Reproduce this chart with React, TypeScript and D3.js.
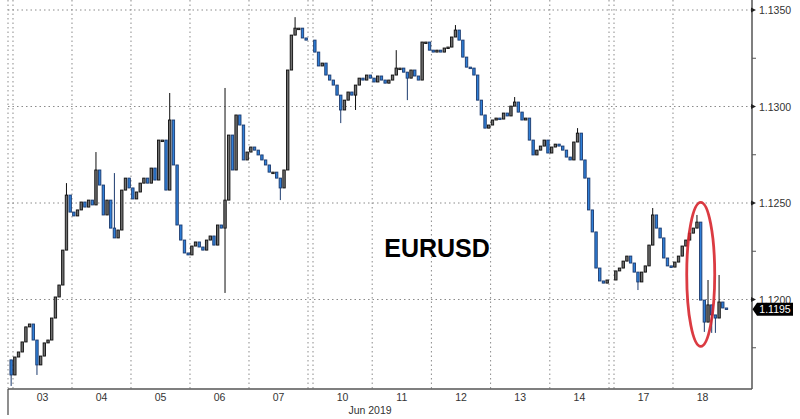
import React from "react";
import * as d3 from "d3";

// ---- data ----
const dayLabels = ["03", "04", "05", "06", "07", "10", "11", "12", "13", "14", "17", "18"];
const monthLabel = "Jun 2019";
const yTicks = [1.12, 1.125, 1.13, 1.135];
const yMinorTicks = [1.1175, 1.1225, 1.1275, 1.1325];
const lastPriceLabel = "1.1195";
const title = "EURUSD";

const firstOpen = 1.11687;
const sundayCloses = [1.11609];
const close03 = [1.11702, 1.11728, 1.1178, 1.11858, 1.11873, 1.1179, 1.11661, 1.11707, 1.11775, 1.1179, 1.11904, 1.12013, 1.12075, 1.12256, 1.12541, 1.12453];
const close04 = [1.12433, 1.12464, 1.12505, 1.12479, 1.12515, 1.1249, 1.12671, 1.12593, 1.12438, 1.12515, 1.1237, 1.12319, 1.1236, 1.12567, 1.12629, 1.12578];
const close05 = [1.12521, 1.12557, 1.12603, 1.12629, 1.12603, 1.12681, 1.12619, 1.12826, 1.12826, 1.12567, 1.1293, 1.12697, 1.12386, 1.12308, 1.12241, 1.12231];
const close06 = [1.12277, 1.12298, 1.12272, 1.12256, 1.12308, 1.12329, 1.12282, 1.12386, 1.1237, 1.12515, 1.12852, 1.12671, 1.12956, 1.12904, 1.12723, 1.12764];
const close07 = [1.1279, 1.12774, 1.12749, 1.12723, 1.12697, 1.1266, 1.1266, 1.12629, 1.12578, 1.12671, 1.13189, 1.1337, 1.13406, 1.13406, 1.13355, 1.13344];
const close10 = [1.13282, 1.1321, 1.13225, 1.13163, 1.13137, 1.13111, 1.13059, 1.12982, 1.13033, 1.13075, 1.13059, 1.13111, 1.13147, 1.13137, 1.13163, 1.13147];
const close11 = [1.13127, 1.13158, 1.13137, 1.13121, 1.13137, 1.13163, 1.13199, 1.13199, 1.13178, 1.13147, 1.13189, 1.13158, 1.13137, 1.13334, 1.13334, 1.13292];
const close12 = [1.13282, 1.13292, 1.13282, 1.13303, 1.13308, 1.1336, 1.13396, 1.13344, 1.13256, 1.13204, 1.13199, 1.13163, 1.13033, 1.12956, 1.12888, 1.12904];
const close13 = [1.1293, 1.1294, 1.12935, 1.12966, 1.12951, 1.13002, 1.13023, 1.12971, 1.1293, 1.1294, 1.12826, 1.12749, 1.12774, 1.12795, 1.12826, 1.12759];
const close14 = [1.1279, 1.12805, 1.12795, 1.12774, 1.12738, 1.12723, 1.12816, 1.12862, 1.12723, 1.12629, 1.12464, 1.1235, 1.12163, 1.12096, 1.12085, 1.12101];
const close17 = [1.12148, 1.12163, 1.12199, 1.12225, 1.12189, 1.12142, 1.12091, 1.12142, 1.12174, 1.12282, 1.12438, 1.1237, 1.12319, 1.12215, 1.12174, 1.12168];
const close18 = [1.12194, 1.12225, 1.12277, 1.12308, 1.12344, 1.1237, 1.12401, 1.11997, 1.11883, 1.11972, 1.1192, 1.11904, 1.11987, 1.11956, 1.1195];
const dayCloses = [close03, close04, close05, close06, close07, close10, close11, close12, close13, close14, close17, close18];

// wick extremes: [day label, candle index, price]
const wickHighs: [string, number, number][] = [
  ["03", 14, 1.12603], ["04", 6, 1.12764], ["04", 11, 1.12655], ["05", 10, 1.1307],
  ["06", 9, 1.13096], ["07", 12, 1.13463], ["11", 6, 1.13292], ["12", 6, 1.13422],
  ["13", 6, 1.13049], ["14", 7, 1.12888], ["17", 10, 1.12474], ["18", 6, 1.12438],
  ["18", 9, 1.12101], ["18", 12, 1.12127],
];
const wickLows: [string, number, number][] = [
  ["02", 0, 1.11552], ["03", 6, 1.11609], ["06", 9, 1.12034], ["07", 8, 1.12515],
  ["10", 7, 1.12914], ["10", 11, 1.12982], ["11", 9, 1.13033], ["17", 6, 1.12049],
  ["18", 8, 1.11832], ["18", 10, 1.11827], ["18", 11, 1.11827],
];
// highlighted region (time in trading days, price)
const highlightTime = 11.47;
const highlightPrice = 1.1213;

// ---- layout ----
const W = 800, H = 419;
const CPD = 16; // candles per day
const sessionStart = -0.0847;
const EPS = 0.0001;

const x = d3.scaleLinear()
  .domain([sessionStart, 5, 5 + EPS, 10, 10 + EPS, 12])
  .range([8, 308, 313, 609, 614, 732]);
const y = d3.scaleLinear().domain([1.12, 1.135]).range([299.5, 10]);

type Candle = { t: number; open: number; close: number; high: number; low: number };

function buildCandles(): Candle[] {
  const hi = new Map(wickHighs.map(([d, j, p]) => [`${d}-${j}`, p]));
  const lo = new Map(wickLows.map(([d, j, p]) => [`${d}-${j}`, p]));
  const out: Candle[] = [];
  let prev = firstOpen;
  const push = (t: number, c: number, key: string) => {
    const high = Math.max(prev, c, hi.get(key) ?? -Infinity);
    const low = Math.min(prev, c, lo.get(key) ?? Infinity);
    out.push({ t, open: prev, close: c, high, low });
    prev = c;
  };
  sundayCloses.forEach((c, j) => push(-(sundayCloses.length - j - 0.5) / CPD, c, `02-${j}`));
  dayCloses.forEach((arr, d) => arr.forEach((c, j) => push(d + (j + 0.5) / CPD, c, `${dayLabels[d]}-${j}`)));
  return out;
}

const candles = buildCandles();

export default function App() {
  const plotLeft = x.range()[0];
  const axisX = 752;
  const axisY = 389;
  const font = "'Liberation Sans', Arial, sans-serif";

  const vLines: number[] = [x(sessionStart), x(0)];
  for (let d = 1; d < 12; d++) {
    vLines.push(x(d));
    if (d === 5 || d === 10) vLines.push(x(d + EPS));
  }

  const bw = 2.4;
  const last = candles[candles.length - 1];
  const ty = y(last.close);

  return (
    <svg width={W} height={H} style={{ position: "fixed", left: 0, top: 0, background: "#fff" }} fontFamily={font}>
      <rect width={W} height={H} fill="#fff" />
      {/* grid */}
      {yTicks.map((v) => (
        <line key={"h" + v} x1={plotLeft} x2={axisX} y1={y(v)} y2={y(v)} stroke="#8a8a8a" strokeWidth={1} strokeDasharray="1.5,3" />
      ))}
      {vLines.map((vx, i) => (
        <line key={"v" + i} x1={vx} x2={vx} y1={0} y2={axisY} stroke="#8a8a8a" strokeWidth={1} strokeDasharray="1.5,3" />
      ))}

      {/* candles */}
      {candles.map((c, i) => {
        const cx = x(c.t);
        const up = c.close >= c.open;
        const top = y(Math.max(c.open, c.close));
        const bot = y(Math.min(c.open, c.close));
        const stroke = up ? "#0d0d0d" : "#1b3a6e";
        const fill = up ? "#707070" : "#2f7fd8";
        return (
          <g key={i}>
            <line x1={cx} x2={cx} y1={y(c.high)} y2={y(c.low)} stroke={stroke} strokeWidth={1} />
            <rect x={cx - bw / 2} y={top} width={bw} height={Math.max(1.5, bot - top)} fill={fill} stroke={stroke} strokeWidth={0.9} />
          </g>
        );
      })}

      {/* highlight ellipse */}
      <ellipse cx={x(highlightTime)} cy={y(highlightPrice)} rx={14} ry={72} fill="none" stroke="#d7262e" strokeWidth={2.8} opacity={0.9} />

      {/* title */}
      <text x={437} y={257} textAnchor="middle" fontSize={25} fontWeight="bold" fill="#000">{title}</text>

      {/* axes */}
      <line x1={axisX} x2={axisX} y1={0} y2={axisY} stroke="#555" strokeWidth={1.5} />
      <line x1={plotLeft} x2={axisX} y1={axisY} y2={axisY} stroke="#555" strokeWidth={1.5} />
      <line x1={plotLeft} x2={plotLeft} y1={axisY} y2={415} stroke="#444" strokeWidth={1.2} />

      {yMinorTicks.map((v) => (
        <line key={"m" + v} x1={axisX} x2={axisX + 4} y1={y(v)} y2={y(v)} stroke="#555" strokeWidth={1} />
      ))}
      {yTicks.map((v) => (
        <g key={"t" + v}>
          <path d={`M${axisX - 1},${y(v) - 2.5} L${axisX + 4},${y(v)} L${axisX - 1},${y(v) + 2.5} Z`} fill="#222" />
          <text x={axisX + 7} y={y(v) + 4} fontSize={10.5} fill="#333">{v.toFixed(4)}</text>
        </g>
      ))}

      {dayLabels.map((lab, d) => (
        <text key={lab} x={x(d + 0.5)} y={401} fontSize={10.5} fill="#333" textAnchor="middle">{lab}</text>
      ))}
      <text x={(x.range()[0] + x.range()[x.range().length - 1]) / 2} y={414} fontSize={10.5} fill="#333" textAnchor="middle">{monthLabel}</text>

      {/* last price tag (covers the lower part of the 1.1200 label, as in the reference) */}
      <path d={`M${axisX + 0.5},${ty} L${axisX + 5},${ty - 6.5} H793 V${ty + 6.5} H${axisX + 5} Z`} fill="#000" />
      <text x={775} y={ty + 4} fontSize={10.5} fill="#fff" textAnchor="middle">{lastPriceLabel}</text>
    </svg>
  );
}
